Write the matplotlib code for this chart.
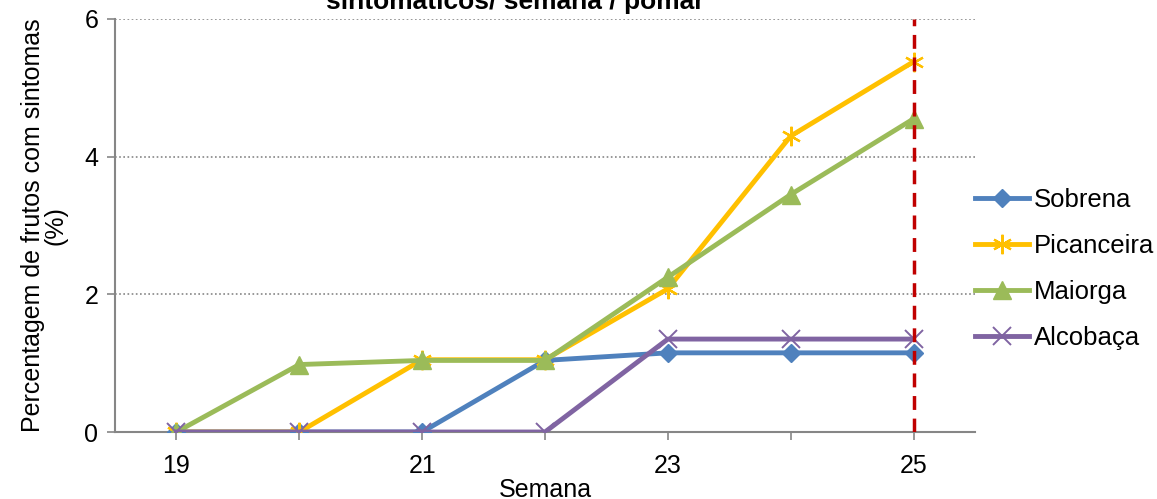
import matplotlib
matplotlib.use('Agg')
import matplotlib.pyplot as plt

plt.rcParams['font.family'] = ['Liberation Sans', 'DejaVu Sans']

# dados
semanas = [19, 20, 21, 22, 23, 24, 25]
sobrena = [0, 0, 0, 1.04, 1.15, 1.15, 1.15]
picanceira = [0, 0, 1.05, 1.05, 2.08, 4.30, 5.38]
maiorga = [0, 0.98, 1.04, 1.04, 2.25, 3.45, 4.55]
alcobaca = [0, 0, 0, 0, 1.35, 1.35, 1.35]
tick_labels = ['19', '', '21', '', '23', '', '25']
semana_limite = 25

fig = plt.figure(figsize=(11.57, 4.99), dpi=100)
ax = fig.add_axes([115 / 1157, 67 / 499, 860 / 1157, 413 / 499])

ax.plot(semanas, sobrena, color='#4F81BD', lw=3.5, marker='D', ms=9,
        label='Sobrena', zorder=3)
ax.plot(semanas, picanceira, color='#FFC000', lw=3.5, marker=(6, 2, 0), ms=14,
        mew=1.6, label='Picanceira', zorder=4)
ax.plot(semanas, maiorga, color='#9BBB59', lw=3.5, marker='^', ms=13,
        label='Maiorga', zorder=5)
ax.plot(semanas, alcobaca, color='#8064A2', lw=3.5, marker='x', ms=13,
        mew=1.4, label='Alcobaça', zorder=6)

# linha vertical tracejada
ax.axvline(semana_limite, ymin=0, ymax=1, color='#C00000', lw=2.5,
           ls=(0, (4, 2.5)), zorder=7)

ax.set_xlim(18.5, 25.5)
ax.set_ylim(0, 6)
ax.set_yticks([0, 2, 4, 6])
ax.set_xticks(semanas)
ax.set_xticklabels(tick_labels)
ax.tick_params(axis='both', labelsize=18, color='#868686', length=6, width=1.2)
ax.tick_params(axis='x', pad=10)
ax.tick_params(axis='y', pad=6)

ax.yaxis.grid(True, linestyle=(0, (1, 1.5)), color='#868686', lw=1.2)
ax.set_axisbelow(True)
for s in ['top', 'right']:
    ax.spines[s].set_visible(False)
for s in ['left', 'bottom']:
    ax.spines[s].set_color('#868686')
    ax.spines[s].set_linewidth(1.5)

ax.set_xlabel('Semana', fontsize=18, labelpad=0)
ax.set_ylabel('Percentagem de frutos com sintomas\n(%)', fontsize=18,
              labelpad=12, linespacing=0.95)

# titulo cortado no topo
fig.text(0.445, 1 - 9 / 499, 'sintomáticos/ semana / pomar', ha='center',
         va='baseline', fontsize=19, weight='bold')

ax.legend(loc='center left', bbox_to_anchor=(1.0, 0.395), frameon=False,
          fontsize=18.5, handlelength=2.1, handletextpad=0.2, labelspacing=0.85,
          borderaxespad=0, borderpad=0)

fig.savefig('out.png', dpi=100)
